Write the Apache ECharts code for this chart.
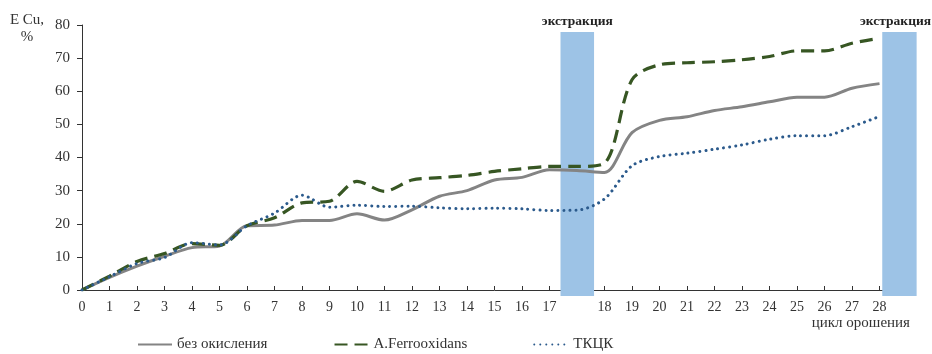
<!DOCTYPE html>
<html>
<head>
<meta charset="utf-8">
<script src="https://cdn.jsdelivr.net/npm/echarts@6/dist/echarts.min.js"></script>
<style>
html,body{margin:0;padding:0;background:#fff;}
#chart{width:932px;height:354px;}
</style>
</head>
<body>
<div id="chart"></div>
<script>
// x-axis slots: irrigation cycles; empty slots are the extraction stages
var categories = ['0','1','2','3','4','5','6','7','8','9','10','11','12','13','14','15','16','17','',
  '18','19','20','21','22','23','24','25','26','27','28',''];
var yTicks = [0,10,20,30,40,50,60,70,80];

var seriesNames = ['без окисления', 'A.Ferrooxidans', 'ТКЦК'];
var noOxidation = [0, 3.8, 7.2, 10.2, 12.8, 13.3, 19.4, 19.6, 21, 21, 23, 21.1, 24.2, 28.3, 30, 33.2, 34, 36.3, 36.1,
  35.5, 47.5, 51.2, 52.3, 54.2, 55.3, 56.8, 58.2, 58.2, 60.9, 62.3, null];
var ferrooxidans = [0, 4.2, 8.6, 11, 14, 13.5, 19.4, 21.8, 26.3, 26.8, 32.8, 29.8, 33.2, 33.9, 34.6, 35.8, 36.6, 37.3, 37.3,
  38.3, 63.5, 68, 68.6, 68.9, 69.5, 70.5, 72.2, 72.2, 74.5, 76, null];
var tkck = [0, 4, 8, 9.8, 14.3, 13.6, 19.4, 23.2, 28.6, 25, 25.6, 25.2, 25.3, 24.8, 24.5, 24.7, 24.5, 24, 24.1,
  27.5, 37.5, 40.3, 41.3, 42.5, 43.8, 45.5, 46.6, 46.6, 49.3, 52.4, null];

// extraction bands in axis units: [xFrom, xTo, yFrom, yTo]
var bandLabel = 'экстракция';
var bands = [[17.4, 18.62, -1.8, 77.9], [29.1, 30.35, -1.8, 77.9]];

function toPairs(arr){
  var out = [];
  for (var i = 0; i < arr.length; i++) { if (arr[i] !== null) out.push([i, arr[i]]); }
  return out;
}

var serif = '"Liberation Serif", "DejaVu Serif", serif';
var chart = echarts.init(document.getElementById('chart'), null, {renderer: 'canvas'});

function renderBand(params, api){
  var pA = api.coord([api.value(0), api.value(3)]);
  var pB = api.coord([api.value(1), api.value(2)]);
  var cx = (pA[0] + pB[0]) / 2;
  var halfW = 36;
  var align = 'center', tx = cx;
  if (cx + halfW > 931) { align = 'right'; tx = 931; }
  return {
    type: 'group',
    children: [
      {type: 'rect', shape: {x: pA[0], y: pA[1], width: pB[0] - pA[0], height: pB[1] - pA[1]},
       style: {fill: '#9DC3E6'}},
      {type: 'text', x: tx, y: pA[1] - 3,
       style: {text: bandLabel, textAlign: align, textVerticalAlign: 'bottom',
               font: 'bold 13.5px ' + serif, fill: '#222'}}
    ]
  };
}

chart.setOption({
  animation: false,
  backgroundColor: '#ffffff',
  grid: {left: 82, right: 25, top: 25, bottom: 64, containLabel: false},
  xAxis: {
    type: 'value', min: 0, max: 30, interval: 1,
    axisLine: {lineStyle: {color: '#333', width: 1}},
    axisTick: {inside: true, length: 4, lineStyle: {color: '#333'}},
    splitLine: {show: false},
    axisLabel: {
      margin: 10, color: '#333', fontFamily: serif, fontSize: 14,
      formatter: function(v){ return categories[v] || ''; }
    }
  },
  yAxis: {
    type: 'value', min: yTicks[0], max: yTicks[yTicks.length-1], interval: 10,
    axisLine: {show: true, lineStyle: {color: '#333', width: 1}},
    axisTick: {show: true, length: 5, lineStyle: {color: '#333'}},
    splitLine: {show: false},
    axisLabel: {margin: 12, color: '#333', fontFamily: serif, fontSize: 15}
  },
  legend: {
    data: seriesNames,
    left: 132, top: 332,
    itemWidth: 34, itemHeight: 14, itemGap: 66,
    itemStyle: {opacity: 0},
    textStyle: {color: '#333', fontFamily: serif, fontSize: 15}
  },
  graphic: [
    {type: 'text', x: 27, y: 12, style: {text: 'E Cu,\n%', font: '15px ' + serif, fill: '#333', textAlign: 'center', lineHeight: 17}},
    {type: 'text', right: 22, top: 316, style: {text: 'цикл орошения', font: '15px ' + serif, fill: '#333'}}
  ],
  series: [
    {
      name: 'bands', type: 'custom', data: bands, clip: false, z: 1, silent: true,
      renderItem: renderBand
    },
    {
      name: seriesNames[0], type: 'line', data: toPairs(noOxidation),
      smooth: 0.3, symbol: 'none', z: 3,
      lineStyle: {color: '#848484', width: 3},
      itemStyle: {color: '#848484'}
    },
    {
      name: seriesNames[1], type: 'line', data: toPairs(ferrooxidans),
      smooth: 0.3, symbol: 'none', z: 3,
      lineStyle: {color: '#375623', width: 3.2, type: [13, 7]},
      itemStyle: {color: '#375623'}
    },
    {
      name: seriesNames[2], type: 'line', data: toPairs(tkck),
      smooth: 0.3, symbol: 'none', z: 3,
      lineStyle: {color: '#2B5A8C', width: 3, type: [0.01, 6], cap: 'round'},
      itemStyle: {color: '#2B5A8C'}
    }
  ]
});
</script>
</body>
</html>
